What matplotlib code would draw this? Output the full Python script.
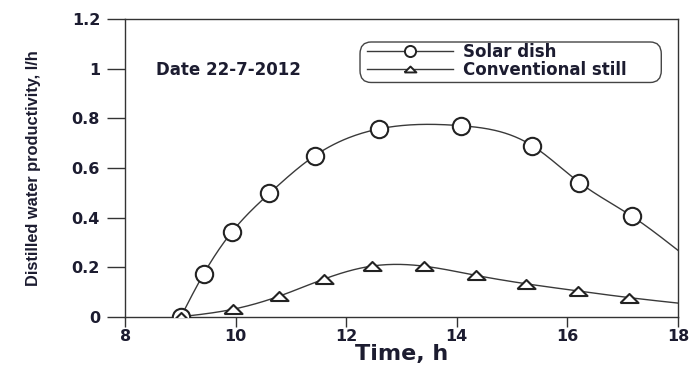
import numpy as np
import matplotlib
matplotlib.use("Agg")
import matplotlib.pyplot as plt
from matplotlib import font_manager as fm
from matplotlib.patches import FancyBboxPatch

# ---- data ----
solar_t = [9.01, 9.42, 9.93, 10.61, 11.43, 12.59, 14.08, 15.37, 16.22, 17.17]
solar_v = [0.0, 0.172, 0.341, 0.497, 0.649, 0.757, 0.770, 0.689, 0.541, 0.405]
solar_end_t, solar_end_v = 18.0, 0.268

conv_t = [9.01, 9.95, 10.79, 11.60, 12.46, 13.40, 14.34, 15.25, 16.19, 17.12]
conv_v = [0.0, 0.030, 0.083, 0.152, 0.204, 0.204, 0.167, 0.133, 0.104, 0.077]
conv_end_t, conv_end_v = 18.0, 0.055

series_names = ['Solar dish', 'Conventional still']
xticks = [8, 10, 12, 14, 16, 18]
yticks = [0, 0.2, 0.4, 0.6, 0.8, 1.0, 1.2]
ytick_labels = ["0", "0.2", "0.4", "0.6", "0.8", "1", "1.2"]

names = {f.name for f in fm.fontManager.ttflist}
ylab_family = ['Liberation Sans Narrow'] if 'Liberation Sans Narrow' in names else ['Liberation Sans']
plt.rcParams['font.family'] = ['DejaVu Sans']

TXT = '#1c1c30'
LINE = '#3a3a3a'


def smooth(x, y, n=300):
    """Natural cubic spline used only to render a smooth line through the points."""
    x = np.asarray(x, float); y = np.asarray(y, float)
    k = len(x); h = np.diff(x)
    A = np.zeros((k, k)); b = np.zeros(k)
    A[0, 0] = A[-1, -1] = 1
    for i in range(1, k - 1):
        A[i, i - 1] = h[i - 1]; A[i, i] = 2 * (h[i - 1] + h[i]); A[i, i + 1] = h[i]
        b[i] = 3 * ((y[i + 1] - y[i]) / h[i] - (y[i] - y[i - 1]) / h[i - 1])
    c = np.linalg.solve(A, b)
    xs = np.linspace(x[0], x[-1], n)
    idx = np.clip(np.searchsorted(x, xs) - 1, 0, k - 2)
    dx = xs - x[idx]
    bb = (y[idx + 1] - y[idx]) / h[idx] - h[idx] * (2 * c[idx] + c[idx + 1]) / 3
    d = (c[idx + 1] - c[idx]) / (3 * h[idx])
    return xs, y[idx] + bb * dx + c[idx] * dx ** 2 + d * dx ** 3


fig = plt.figure(figsize=(6.91, 3.67), dpi=100)
ax = fig.add_axes([0.181, 0.137, 0.800, 0.811])

sx, sy = smooth(solar_t + [solar_end_t], solar_v + [solar_end_v])
cx, cy = smooth(conv_t + [conv_end_t], conv_v + [conv_end_v])

ax.plot(sx, sy, color=LINE, lw=1.0, zorder=2)
ax.plot(cx, cy, color=LINE, lw=1.0, zorder=2)

tri = [(-1.0, -0.5), (1.0, -0.5), (0.0, 0.5), (-1.0, -0.5)]
ax.plot(solar_t, solar_v, ls='none', marker='o', ms=12.5, mfc='white',
        mec='#222222', mew=1.5, zorder=3)
ax.plot(conv_t, conv_v, ls='none', marker=tri, ms=13, mfc='white',
        mec='#222222', mew=1.5, zorder=4)

# legend frame (rounded box) and legend entries
frame = FancyBboxPatch((0.425, 0.787), 0.545, 0.136,
                       boxstyle='round,pad=0,rounding_size=0.02',
                       transform=ax.transAxes, fc='white', ec='#444444',
                       lw=1.0, zorder=5, mutation_aspect=2.0)
ax.add_patch(frame)
h1, = ax.plot([], [], color=LINE, lw=1.0, marker='o', ms=8, mfc='white',
              mec='#222222', mew=1.4)
h2, = ax.plot([], [], color=LINE, lw=1.0, marker=tri, ms=8.5, mfc='white',
              mec='#222222', mew=1.4)
leg = ax.legend([h1, h2], series_names,
                loc='upper left', bbox_to_anchor=(0.437, 0.921),
                frameon=False, handlelength=5.2, handletextpad=0.57,
                borderpad=0, labelspacing=0.0, borderaxespad=0,
                prop={'weight': 'bold', 'size': 12})
leg.set_zorder(6)
for t in leg.get_texts():
    t.set_color(TXT)

ax.text(0.056, 0.829, 'Date 22-7-2012', transform=ax.transAxes, fontsize=12,
        fontweight='bold', color=TXT, va='center', ha='left')

ax.set_xlim(8, 18)
ax.set_ylim(0, 1.2)
ax.set_xticks(xticks)
ax.set_yticks(yticks)
ax.set_yticklabels(ytick_labels)
ax.tick_params(direction='out', width=1, top=False, right=False,
               labelsize=11.5, colors='#333333', labelcolor=TXT)
ax.tick_params(axis='y', length=13, pad=5)
ax.tick_params(axis='x', length=7, pad=2)
for lab in ax.get_xticklabels() + ax.get_yticklabels():
    lab.set_fontweight('bold')
for s in ax.spines.values():
    s.set_linewidth(1.0)
    s.set_color('#333333')

ax.set_xlabel('Time, h', fontsize=16, fontweight='bold', color=TXT, labelpad=0)
ax.set_ylabel('Distilled water productivity, l/h', fontsize=11.8, family=ylab_family,
              fontweight='bold', color=TXT)
ax.yaxis.set_label_coords(-0.152, 0.5)

fig.savefig('out.png', dpi=100)
